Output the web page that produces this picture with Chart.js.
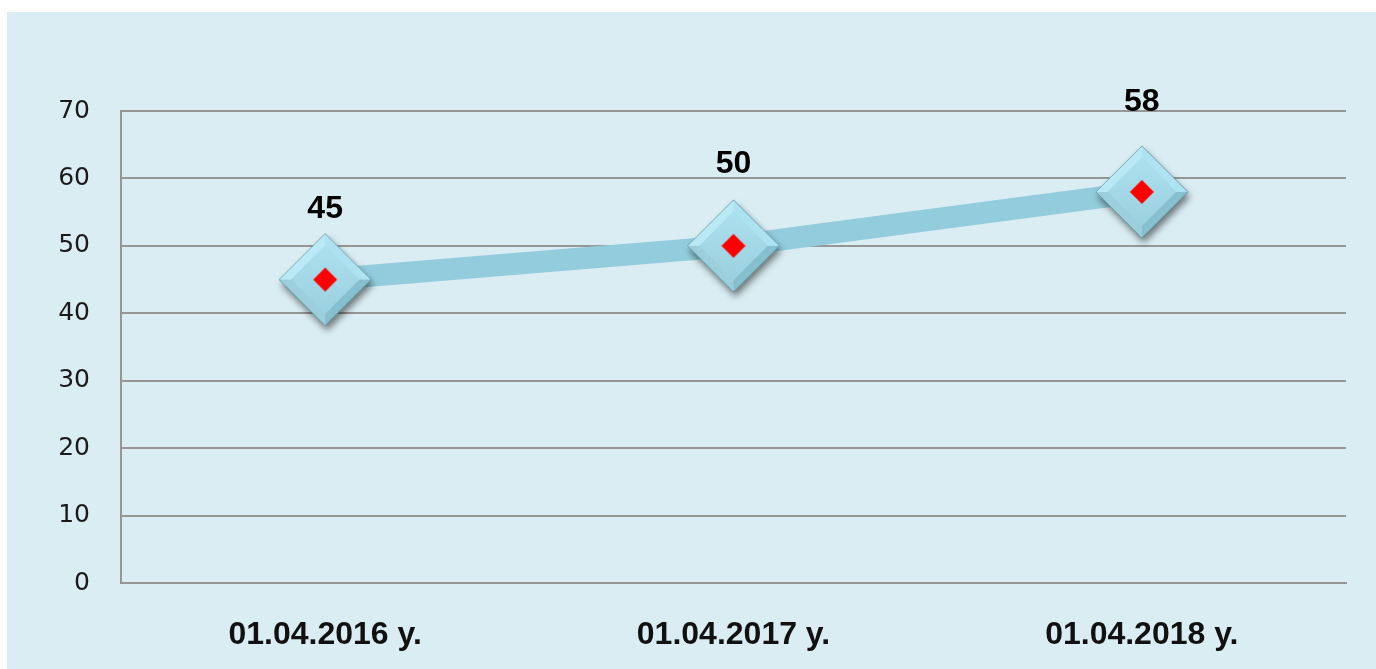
<!DOCTYPE html>
<html>
<head>
<meta charset="utf-8">
<script src="https://cdn.jsdelivr.net/npm/chart.js@4"></script>
<style>
  html, body { margin: 0; padding: 0; background: #ffffff; width: 1376px; height: 669px; overflow: hidden; }
  #panel { position: absolute; left: 7px; top: 12px; width: 1369px; height: 657px; background: #daedf3; }
  canvas { display: block; }
</style>
</head>
<body>
<div id="panel"><canvas id="c" width="1369" height="657"></canvas></div>
<script>
// ---- data ----
const categories = ['01.04.2016 y.', '01.04.2017 y.', '01.04.2018 y.'];
const values = [45, 50, 58];
const yTicks = [0, 10, 20, 30, 40, 50, 60, 70];

// ---- style (label lift above each marker, px) ----
const labelLift = [70, 82, 90];

function makeDiamond() {
  const S = 112, c = 56, R = 46, B = 12;
  const cv = document.createElement('canvas');
  cv.width = S; cv.height = S;
  const g = cv.getContext('2d');
  const T = [c, c - R], Rt = [c + R, c], Bm = [c, c + R], L = [c - R, c];
  const r = R - B;
  const t = [c, c - r], rr = [c + r, c], b = [c, c + r], l = [c - r, c];
  function poly(pts, fill) {
    g.beginPath(); g.moveTo(pts[0][0], pts[0][1]);
    for (let i = 1; i < pts.length; i++) g.lineTo(pts[i][0], pts[i][1]);
    g.closePath(); g.fillStyle = fill; g.fill();
  }
  g.save();
  g.shadowColor = 'rgba(0,0,0,0.5)'; g.shadowBlur = 7; g.shadowOffsetX = 2; g.shadowOffsetY = 5;
  poly([T, Rt, Bm, L], '#9fd3e1');
  g.restore();
  poly([L, T, t, l], '#bae9f6');
  poly([T, Rt, rr, t], '#ade2f1');
  poly([Rt, Bm, b, rr], '#86bfce');
  poly([Bm, L, l, b], '#9ccfdc');
  const grad = g.createLinearGradient(c, c - r, c, c + r);
  grad.addColorStop(0, '#ace0ee'); grad.addColorStop(1, '#9cd1df');
  poly([t, rr, b, l], grad);
  g.beginPath(); g.moveTo(T[0], T[1]); g.lineTo(Rt[0], Rt[1]); g.lineTo(Bm[0], Bm[1]); g.lineTo(L[0], L[1]); g.closePath();
  g.strokeStyle = 'rgba(70,120,135,0.55)'; g.lineWidth = 1; g.stroke();
  const q = 12;
  poly([[c, c - q], [c + q, c], [c, c + q], [c - q, c]], '#ff0000');
  return cv;
}
const diamond = makeDiamond();

const valueLabels = {
  id: 'valueLabels',
  afterDatasetsDraw(chart) {
    const ctx = chart.ctx;
    const meta = chart.getDatasetMeta(0);
    ctx.save();
    ctx.font = 'bold 32px "Liberation Sans", Arial, sans-serif';
    ctx.fillStyle = '#000000';
    ctx.textAlign = 'center';
    ctx.textBaseline = 'middle';
    meta.data.forEach((pt, i) => {
      ctx.fillText(String(values[i]), pt.x, pt.y - labelLift[i]);
    });
    ctx.restore();
  }
};

new Chart(document.getElementById('c'), {
  type: 'line',
  data: {
    labels: categories,
    datasets: [{
      data: values,
      borderColor: '#93cddd',
      borderWidth: 22,
      tension: 0,
      pointStyle: diamond,
      pointRadius: 46,
      pointHoverRadius: 46,
      clip: false
    }]
  },
  options: {
    responsive: false,
    devicePixelRatio: 1,
    animation: false,
    events: [],
    layout: { autoPadding: false, padding: { left: 0, right: 30, top: 99, bottom: 0 } },
    plugins: { legend: { display: false }, tooltip: { enabled: false }, title: { display: false } },
    scales: {
      x: {
        offset: true,
        grid: { display: false, drawTicks: false },
        border: { display: true, color: '#969696', width: 2 },
        ticks: { color: '#111111', font: { family: '"Liberation Sans", Arial, sans-serif', size: 32, weight: 'bold' }, padding: 33, maxRotation: 0 },
        afterFit(s) { s.height = 86; s.paddingLeft = 0; s.paddingRight = 0; }
      },
      y: {
        min: 0, max: 70,
        afterBuildTicks(s) { s.ticks = yTicks.map(v => ({ value: v })); },
        grid: { color: '#969696', lineWidth: 2, drawTicks: false },
        border: { display: true, color: '#969696', width: 2 },
        ticks: { color: '#1a1a1a', font: { family: '"DejaVu Sans", sans-serif', size: 25 }, padding: 31 },
        afterFit(s) { s.width = 114; s.paddingTop = 0; s.paddingBottom = 0; }
      }
    }
  },
  plugins: [valueLabels]
});
</script>
</body>
</html>
